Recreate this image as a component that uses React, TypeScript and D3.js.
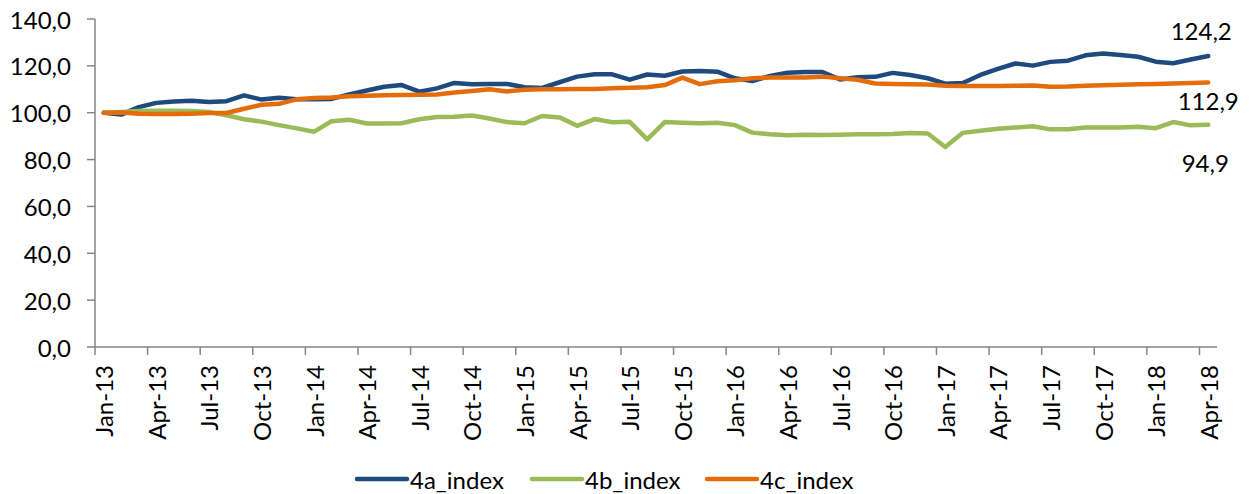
import React from "react";
import * as d3 from "d3";

const months: string[] = [
  "Jan-13","Feb-13","Mar-13","Apr-13","May-13","Jun-13","Jul-13","Aug-13","Sep-13","Oct-13","Nov-13","Dec-13",
  "Jan-14","Feb-14","Mar-14","Apr-14","May-14","Jun-14","Jul-14","Aug-14","Sep-14","Oct-14","Nov-14","Dec-14",
  "Jan-15","Feb-15","Mar-15","Apr-15","May-15","Jun-15","Jul-15","Aug-15","Sep-15","Oct-15","Nov-15","Dec-15",
  "Jan-16","Feb-16","Mar-16","Apr-16","May-16","Jun-16","Jul-16","Aug-16","Sep-16","Oct-16","Nov-16","Dec-16",
  "Jan-17","Feb-17","Mar-17","Apr-17","May-17","Jun-17","Jul-17","Aug-17","Sep-17","Oct-17","Nov-17","Dec-17",
  "Jan-18","Feb-18","Mar-18","Apr-18",
];

const index4a: number[] = [
  100.0, 99.2, 102.4, 104.2, 104.8, 105.1, 104.6, 104.9, 107.4, 105.6, 106.4, 105.8,
  105.7, 105.9, 107.8, 109.5, 111.1, 111.8, 109.0, 110.4, 112.7, 112.1, 112.3, 112.3,
  110.9, 110.6, 113.0, 115.4, 116.4, 116.4, 114.1, 116.3, 115.8, 117.6, 117.8, 117.5,
  114.7, 113.5, 115.7, 117.1, 117.4, 117.4, 114.2, 115.1, 115.3, 117.0, 116.1, 114.7,
  112.4, 112.7, 116.1, 118.7, 121.0, 120.1, 121.7, 122.2, 124.5, 125.3, 124.6, 123.9,
  121.8, 121.1, 122.7, 124.2,
];

const index4b: number[] = [
  100.0, 100.3, 100.7, 100.8, 100.8, 100.7, 100.3, 98.9, 97.2, 96.2, 94.7, 93.3,
  91.9, 96.4, 97.0, 95.4, 95.4, 95.5, 97.2, 98.2, 98.3, 98.8, 97.5, 96.0,
  95.5, 98.6, 98.0, 94.4, 97.3, 95.9, 96.1, 88.6, 96.0, 95.7, 95.5, 95.7,
  94.7, 91.5, 90.8, 90.4, 90.6, 90.5, 90.6, 90.8, 90.8, 90.9, 91.3, 91.1,
  85.4, 91.4, 92.3, 93.2, 93.7, 94.2, 92.9, 92.9, 93.7, 93.7, 93.7, 94.0,
  93.4, 96.0, 94.6, 94.9,
];

const index4c: number[] = [
  100.0, 100.1, 99.6, 99.4, 99.4, 99.6, 99.9, 99.9, 101.7, 103.4, 103.8, 105.7,
  106.3, 106.5, 107.0, 107.2, 107.5, 107.6, 107.7, 107.8, 108.6, 109.3, 110.0, 109.1,
  109.8, 110.0, 110.0, 110.1, 110.1, 110.4, 110.7, 110.9, 111.8, 115.0, 112.2, 113.4,
  113.9, 114.7, 115.0, 115.0, 115.0, 115.4, 114.7, 114.1, 112.5, 112.3, 112.2, 112.0,
  111.5, 111.4, 111.4, 111.4, 111.5, 111.6, 111.1, 111.2, 111.5, 111.7, 111.9, 112.1,
  112.3, 112.5, 112.7, 112.9,
];

const seriesNames: string[] = ["4a_index", "4b_index", "4c_index"];
const seriesColors: string[] = ["#1F4A7E", "#9BBB59", "#E46C0A"];
const yTicks: number[] = [0, 20, 40, 60, 80, 100, 120, 140];

const FONT = "Lato, 'Noto Sans', sans-serif";

export default function App() {
  const W = 1250;
  const H = 494;
  const left = 95;
  const right = 1217;
  const top = 19;
  const bottom = 347;
  const FS = 24;

  const x = d3.scaleBand<string>().domain(months).range([left, right]).padding(0);
  const y = d3.scaleLinear().domain([0, 140]).range([bottom, top]);
  const cx = (m: string) => (x(m) as number) + x.bandwidth() / 2;

  const allSeries = [index4a, index4b, index4c];
  const line = d3
    .line<number>()
    .x((_, i) => cx(months[i]))
    .y((v) => y(v));

  const fmt = (v: number) => d3.format(".1f")(v).replace(".", ",");

  const tickMonths = months.filter((_, i) => i % 3 === 0);
  const lastM = months[months.length - 1];
  // label offsets (dx, dy from the last point), per series
  const labelOffsets = [
    [-7, -26],
    [-3, 38],
    [0, 18],
  ];
  const legendX = [357, 532, 707];

  return (
    <svg
      width={W}
      height={H}
      style={{ position: "absolute", left: 0, top: 0, background: "#fff" }}
      fontFamily={FONT}
    >
      <rect x={0} y={0} width={W} height={H} fill="#fff" />
      {/* Y axis */}
      <line x1={left} x2={left} y1={top} y2={bottom} stroke="#868686" strokeWidth={1.5} />
      {yTicks.map((t) => (
        <g key={t}>
          <line x1={left - 8} x2={left} y1={y(t)} y2={y(t)} stroke="#868686" strokeWidth={1.5} />
          <text
            x={71}
            y={y(t)}
            textAnchor="end"
            dominantBaseline="central"
            fontSize={FS}
            fill="#000"
          >
            {fmt(t)}
          </text>
        </g>
      ))}
      {/* X axis */}
      <line x1={left} x2={right} y1={bottom} y2={bottom} stroke="#868686" strokeWidth={1.5} />
      {tickMonths.map((m) => (
        <g key={m}>
          <line
            x1={x(m) as number}
            x2={x(m) as number}
            y1={bottom}
            y2={bottom + 8}
            stroke="#868686"
            strokeWidth={1.5}
          />
          <text
            transform={`translate(${cx(m)},365) rotate(-90)`}
            textAnchor="end"
            dominantBaseline="central"
            fontSize={FS}
            fill="#000"
          >
            {m}
          </text>
        </g>
      ))}
      {/* Lines */}
      {allSeries.map((s, k) => (
        <path
          key={seriesNames[k]}
          d={line(s) as string}
          fill="none"
          stroke={seriesColors[k]}
          strokeWidth={4.5}
          strokeLinejoin="round"
          strokeLinecap="round"
        />
      ))}
      {/* End labels */}
      {allSeries.map((s, k) => (
        <text
          key={"lbl" + k}
          x={cx(lastM) + labelOffsets[k][0]}
          y={y(s[s.length - 1]) + labelOffsets[k][1]}
          textAnchor="middle"
          dominantBaseline="central"
          fontSize={FS}
          fill="#000"
        >
          {fmt(s[s.length - 1])}
        </text>
      ))}
      {/* Legend */}
      {seriesNames.map((n, k) => (
        <g key={"leg" + n}>
          <line
            x1={legendX[k]}
            x2={legendX[k] + 50}
            y1={479}
            y2={479}
            stroke={seriesColors[k]}
            strokeWidth={4.5}
            strokeLinecap="round"
          />
          <text
            x={legendX[k] + 53}
            y={479}
            dominantBaseline="central"
            fontSize={FS}
            fill="#000"
          >
            {n}
          </text>
        </g>
      ))}
    </svg>
  );
}
